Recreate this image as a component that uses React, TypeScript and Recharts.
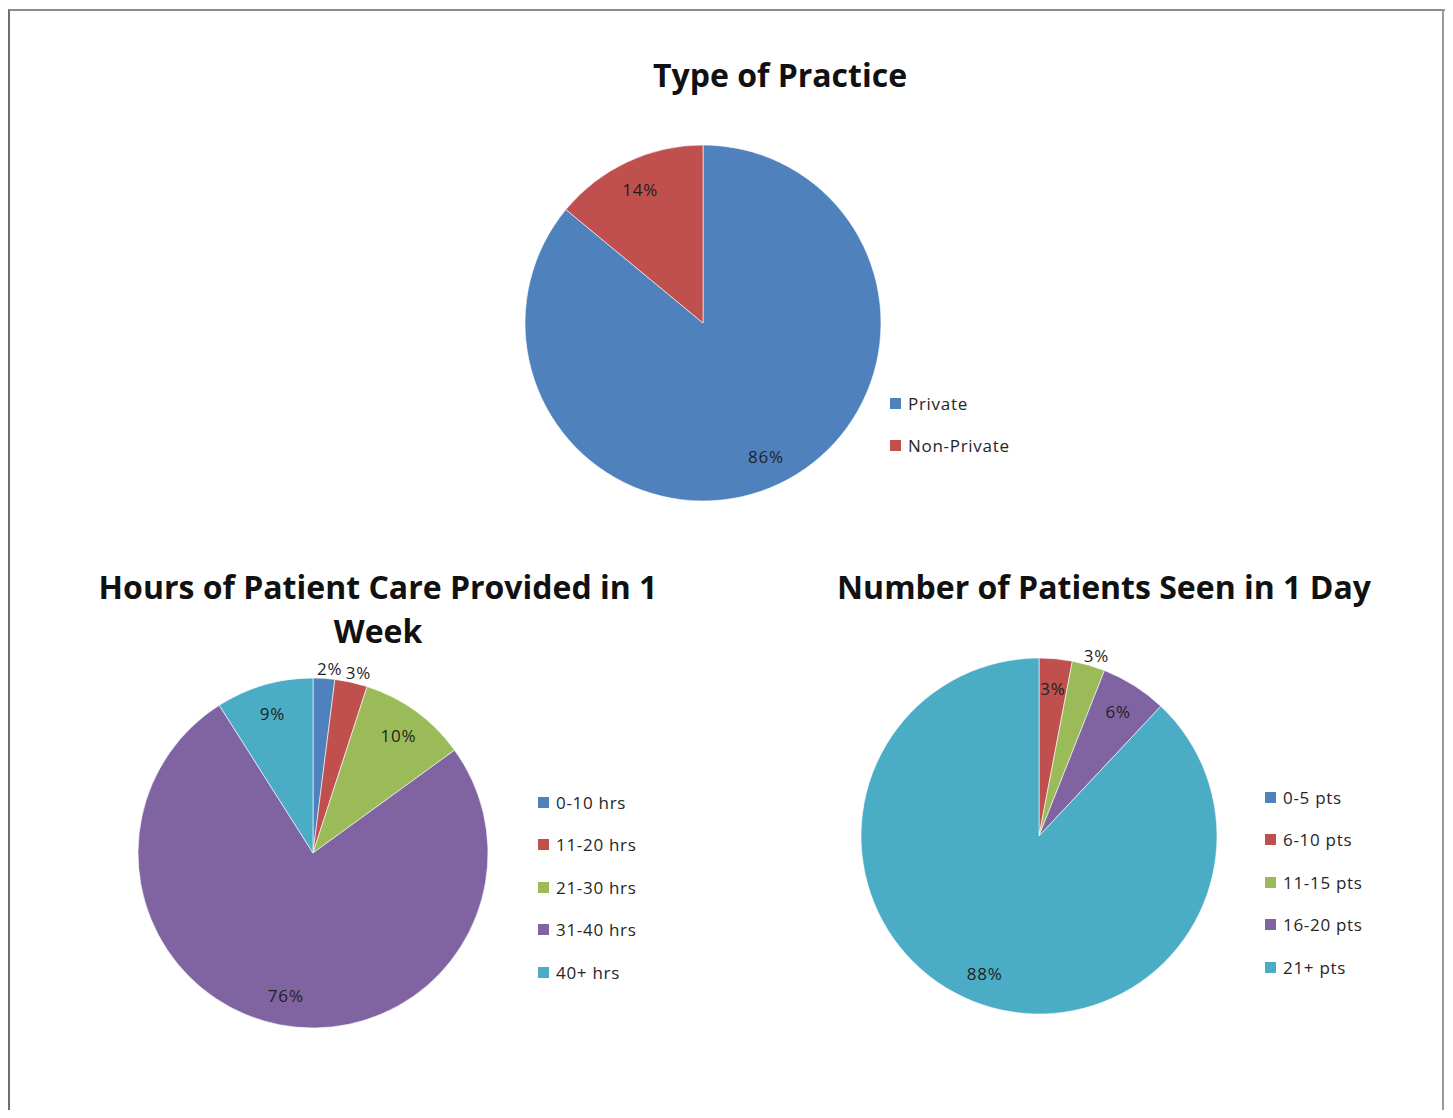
import React from "react";
import { Cell, Legend, Pie, PieChart } from "recharts";

const practiceNames = ["Private", "Non-Private"];
const practiceValues = [86, 14];

const hoursNames = ["0-10 hrs", "11-20 hrs", "21-30 hrs", "31-40 hrs", "40+ hrs"];
const hoursValues = [2, 3, 10, 76, 9];

const patientsNames = ["0-5 pts", "6-10 pts", "11-15 pts", "16-20 pts", "21+ pts"];
const patientsValues = [0, 3, 3, 6, 88];

const sliceColors = ["#4F81BD", "#C0504D", "#9BBB59", "#8064A2", "#4BACC6"];

const FONT = "'Open Sans', 'DejaVu Sans', sans-serif";
const RAD = Math.PI / 180;

const toRows = (names: string[], values: number[]) =>
  names.map((name, i) => ({ name, value: values[i] }));

// slices whose percentage sits just outside the pie edge
function makeLabel(outside: number[]) {
  return (p: any) => {
    if (!p.value) return null;
    const isOut = outside.includes(p.index);
    const r = isOut ? p.outerRadius + 10 : p.outerRadius * 0.83;
    const x = p.cx + r * Math.cos(-p.midAngle * RAD) + (isOut ? 5 : 0);
    const y = p.cy + r * Math.sin(-p.midAngle * RAD);
    return (
      <text
        x={x}
        y={y}
        fill="#1f1f1f"
        fontFamily={FONT}
        fontSize={17}
        letterSpacing={0.8}
        textAnchor="middle"
        dominantBaseline="central"
      >
        {p.value}%
      </text>
    );
  };
}

function LegendList({ payload, order }: any) {
  const items = [...(payload || [])].sort(
    (a: any, b: any) => order.indexOf(a.value) - order.indexOf(b.value)
  );
  return (
    <div style={{ fontFamily: FONT, fontSize: 17, letterSpacing: 0.7, color: "#262626" }}>
      {items.map((item: any) => (
        <div key={item.value} style={{ display: "flex", alignItems: "center", height: 42.5 }}>
          <span
            style={{ width: 11, height: 11, background: item.color, marginRight: 7, display: "inline-block" }}
          />
          {item.value}
        </div>
      ))}
    </div>
  );
}

const titleStyle: React.CSSProperties = {
  position: "absolute",
  fontFamily: FONT,
  fontWeight: 700,
  fontSize: 32,
  color: "#111",
  textAlign: "center",
  lineHeight: "44px",
  whiteSpace: "nowrap"
};

function PieBlock({
  names,
  values,
  left,
  top,
  width,
  height,
  cx,
  cy,
  radius,
  legendLeft,
  legendTop,
  outside
}: any) {
  const data = toRows(names, values);
  return (
    <div style={{ position: "absolute", left, top }}>
      <PieChart width={width} height={height} margin={{ top: 0, right: 0, bottom: 0, left: 0 }}>
        <Pie
          data={data}
          dataKey="value"
          nameKey="name"
          cx={cx}
          cy={cy}
          outerRadius={radius}
          startAngle={90}
          endAngle={-270}
          stroke="rgba(255,255,255,0.6)"
          strokeWidth={1}
          label={makeLabel(outside)}
          labelLine={false}
          isAnimationActive={false}
        >
          {data.map((d, i) => (
            <Cell key={d.name} fill={sliceColors[i]} />
          ))}
        </Pie>
        <Legend
          layout="vertical"
          align="right"
          verticalAlign="top"
          content={<LegendList order={names} />}
          wrapperStyle={{ left: legendLeft, top: legendTop, right: "auto", width: 200 }}
        />
      </PieChart>
    </div>
  );
}

export default function App() {
  return (
    <div
      style={{
        position: "relative",
        width: 1453,
        height: 1118,
        margin: -8,
        overflow: "hidden",
        background: "#fff"
      }}
    >
      <div
        style={{
          position: "absolute",
          left: 8,
          top: 9,
          width: 1438,
          height: 1130,
          borderTop: "2px solid #8c8c8c",
          borderLeft: "2px solid #6e6e6e"
        }}
      />
      <div style={{ position: "absolute", left: 1442, top: 9, width: 2, height: 1130, background: "#9a9a9a" }} />

      <div style={{ ...titleStyle, left: 480, top: 53, width: 600 }}>Type of Practice</div>
      <PieBlock
        names={practiceNames}
        values={practiceValues}
        left={400}
        top={30}
        width={700}
        height={490}
        cx={303}
        cy={293}
        radius={178}
        legendLeft={490}
        legendTop={352}
        outside={[]}
      />

      <div style={{ ...titleStyle, left: 78, top: 565, width: 600 }}>
        Hours of Patient Care Provided in 1
        <br />
        Week
      </div>
      <PieBlock
        names={hoursNames}
        values={hoursValues}
        left={60}
        top={640}
        width={640}
        height={420}
        cx={253}
        cy={213}
        radius={175}
        legendLeft={478}
        legendTop={141}
        outside={[0, 1]}
      />

      <div style={{ ...titleStyle, left: 804, top: 565, width: 600 }}>
        Number of Patients Seen in 1 Day
      </div>
      <PieBlock
        names={patientsNames}
        values={patientsValues}
        left={760}
        top={620}
        width={680}
        height={420}
        cx={279}
        cy={216}
        radius={178}
        legendLeft={505}
        legendTop={156}
        outside={[2]}
      />
    </div>
  );
}
